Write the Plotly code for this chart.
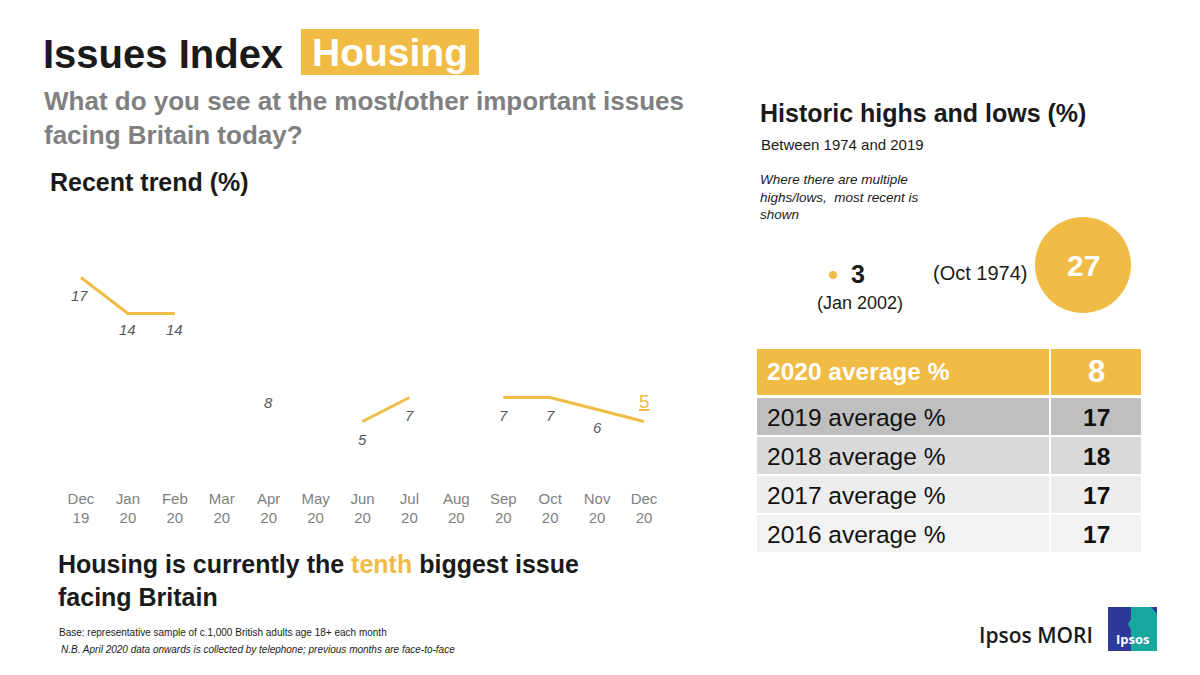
import plotly.graph_objects as go

# ---------------- data ----------------
months = ["Dec<br>19", "Jan<br>20", "Feb<br>20", "Mar<br>20", "Apr<br>20", "May<br>20", "Jun<br>20",
          "Jul<br>20", "Aug<br>20", "Sep<br>20", "Oct<br>20", "Nov<br>20", "Dec<br>20"]
housing = [17, 14, 14, None, 8, None, 5, 7, None, 7, 7, 6, 5]

hist_low_value = 3
hist_low_date = "(Jan 2002)"
hist_high_value = 27
hist_high_date = "(Oct 1974)"

avg_labels = ["2020 average %", "2019 average %", "2018 average %", "2017 average %", "2016 average %"]
avg_values = [8, 17, 18, 17, 17]

GOLD = "#F0BC45"
FONT = "Liberation Sans, Arial, sans-serif"
W, H = 1200, 675
OFF = 8  # page body margin


def px(x):
    return (x - OFF) / W


def py(y):
    return 1 - (y - OFF) / H


fig = go.Figure()

fig.add_trace(go.Scatter(
    x=months, y=housing, mode="lines", connectgaps=False,
    line=dict(color=GOLD, width=3), hoverinfo="skip", showlegend=False,
))

annotations = []
shapes = []
# data labels (offset in px below the point; last point above, highlighted)
label_shift = [-18, -16, -16, 0, -17, 0, -18, -18, 0, -18, -18, -18, 20]
for i, (m, v) in enumerate(zip(months, housing)):
    if v is None:
        continue
    if i == len(months) - 1:
        annotations.append(dict(x=m, y=v, xref="x", yref="y", text=f"<u>{v}</u>", showarrow=False,
                                yshift=label_shift[i], font=dict(family=FONT, size=19, color=GOLD)))
    else:
        annotations.append(dict(x=m, y=v, xref="x", yref="y", text=f"<i>{v}</i>", showarrow=False,
                                yshift=label_shift[i], xshift=-1 if i == 0 else 0,
                                font=dict(family=FONT, size=15, color="#595959")))


def txt(x, y, text, size, color="#1a1a1a", xanchor="left", weight=None, family=FONT):
    f = dict(family=family, size=size, color=color)
    if weight:
        f["weight"] = weight
    annotations.append(dict(x=px(x), y=py(y), xref="paper", yref="paper", text=text, showarrow=False,
                            xanchor=xanchor, yanchor="middle", align="left", font=f))


def rect(x0, y0, x1, y1, color, line_color=None, line_width=0, kind="rect"):
    shapes.append(dict(type=kind, xref="paper", yref="paper", x0=px(x0), x1=px(x1), y0=py(y1), y1=py(y0),
                       fillcolor=color, line=dict(width=line_width, color=line_color or color),
                       layer="below"))


# titles
rect(301, 29, 479, 75, GOLD)
txt(41, 54, "<b>Issues Index</b>", 40)
txt(390, 53, "<b>Housing</b>", 39, color="white", xanchor="center")
txt(42, 118, "<b>What do you see at the most/other important issues<br>facing Britain today?</b>", 26,
    color="#808080")
txt(48, 182, "<b>Recent trend (%)</b>", 25)

# right panel
txt(758, 113, "<b>Historic highs and lows (%)</b>", 25)
txt(759, 144, "Between 1974 and 2019", 15)
txt(758, 197, "<i>Where there are multiple<br>highs/lows,  most recent is<br>shown</i>", 13.5)
rect(829, 271, 837, 279, GOLD, kind="circle")
txt(858, 274, f"<b>{hist_low_value}</b>", 25, xanchor="center")
txt(860, 303, hist_low_date, 18, xanchor="center")
txt(980, 273, hist_high_date, 20, xanchor="center")
rect(1035, 217, 1131, 313, GOLD, kind="circle")
txt(1083, 265, f"<b>{hist_high_value}</b>", 30, color="white", xanchor="center")

# averages table
row_fills = [GOLD, "#BFBFBF", "#D9D9D9", "#EDEDED", "#F2F2F2"]
row_tops = [348, 397, 436, 475, 514]
row_bots = [396, 436, 475, 514, 553]
for i, (lab, val) in enumerate(zip(avg_labels, avg_values)):
    y0, y1 = row_tops[i], row_bots[i]
    rect(756, y0, 1050, y1, row_fills[i], "white", 2)
    rect(1050, y0, 1142, y1, row_fills[i], "white", 2)
    yc = (y0 + y1) / 2 + (1 if i else 0)
    if i == 0:
        txt(765, yc, f"<b>{lab}</b>", 24.5, color="white")
        txt(1096, yc, f"<b>{val}</b>", 31, color="white", xanchor="center")
    else:
        txt(765, yc, lab, 24.5, color="#111111")
        txt(1096, yc, f"<b>{val}</b>", 24.5, color="#111111", xanchor="center")

# bottom texts
txt(56, 580, f"<b>Housing is currently the <span style='color:{GOLD}'>tenth</span> biggest issue<br>facing Britain</b>",
    25)
txt(57, 632, "Base: representative sample of c.1,000 British adults age 18+ each month", 10)
txt(59, 649, "<i>N.B. April 2020 data onwards is collected by telephone; previous months are face-to-face</i>", 10)

# logo
txt(977, 635, "Ipsos MORI", 21, weight=600, family="Open Sans, sans-serif")
rect(1108, 607, 1157, 651, "#2D3A9A")
shapes.append(dict(type="path", xref="paper", yref="paper",
                   path=f"M {px(1131)},{py(607)} L {px(1151)},{py(607)} L {px(1157)},{py(614)} "
                        f"L {px(1157)},{py(651)} L {px(1131)},{py(651)} L {px(1131)},{py(630)} "
                        f"L {px(1128)},{py(624)} L {px(1131)},{py(619)} Z",
                   fillcolor="#16A79E", line=dict(width=0), layer="below"))
txt(1133, 639, "<b>Ipsos</b>", 13, color="white", xanchor="center", family="Open Sans, sans-serif")

fig.update_layout(
    width=W, height=H, margin=dict(l=0, r=0, t=0, b=0),
    paper_bgcolor="white", plot_bgcolor="white",
    xaxis=dict(domain=[px(57.5), px(667.5)], type="category", range=[-0.5, 12.5],
               showgrid=False, zeroline=False, showline=False, ticks="",
               tickfont=dict(family=FONT, size=15, color="#7F7F7F")),
    yaxis=dict(domain=[py(487.5), py(241.5)], range=[-0.5, 20], visible=False),
    annotations=annotations, shapes=shapes, showlegend=False,
)

fig.write_html("out.html")
